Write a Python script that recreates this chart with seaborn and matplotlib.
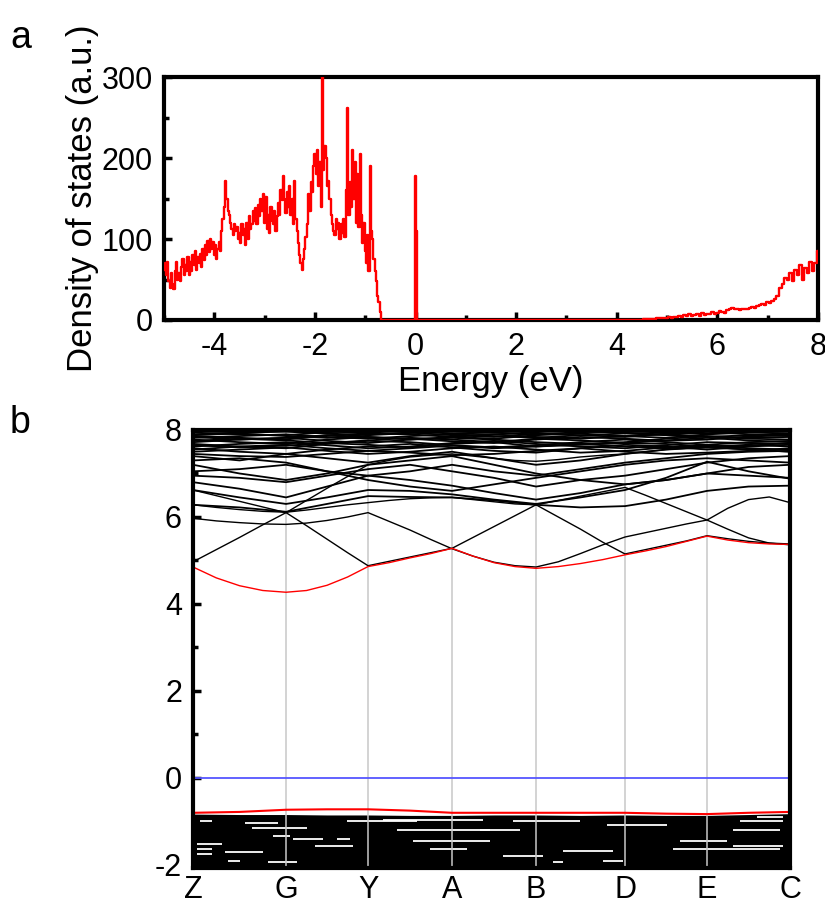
import numpy as np
import pandas as pd
import matplotlib
matplotlib.use("Agg")
import matplotlib.pyplot as plt
import seaborn as sns
from matplotlib.ticker import MultipleLocator

# ---- panel a: density of states ----
# occupied part, -5.0 .. -0.675 eV, 0.025 eV steps
dos_valence = [
    62, 70, 55, 72, 48, 40, 58, 45, 38, 60, 72, 50, 58, 48, 65, 75, 55, 68, 60, 78,
    55, 72, 60, 80, 68, 85, 62, 78, 70, 82, 66, 88, 74, 92, 80, 98, 84, 100, 88, 96,
    80, 92, 75, 88, 96, 85, 110, 125, 140, 172, 150, 135, 130, 120, 112, 105, 118, 110, 115, 100,
    108, 95, 118, 105, 112, 92, 120, 100, 128, 112, 118, 135, 122, 138, 118, 142, 128, 150, 135, 155,
    120, 152, 112, 130, 108, 140, 122, 118, 135, 110, 128, 145, 130, 160, 148, 178, 150, 132, 158, 140,
    165, 130, 150, 118, 172, 125, 110, 95, 80, 70, 62, 75, 88, 102, 118, 155, 135, 170, 158, 190,
    205, 180, 210, 165, 195, 140, 300, 185, 215, 200, 165, 172, 150, 130, 118, 110, 105, 125, 112, 120,
    100, 118, 108, 125, 102, 160, 262, 130, 170, 140, 210, 150, 195, 120, 180, 115, 205, 130, 95, 120,
    85, 70, 105, 60, 190, 110, 100, 75, 60, 48, 30, 22, 10, 0,
]
e_valence = np.round(-5.0 + 0.025 * np.arange(len(dos_valence)), 3)

# gap with the in-gap state at 0 eV
e_gap = [-0.65, -0.02, 0.0, 0.02, 0.04, 4.35]
dos_gap = [0, 0, 178, 110, 0, 0]

# conduction part, 4.40 .. 8.00 eV, 0.05 eV steps
dos_conduction = [
    0, 0, 0.5, 0.8, 1, 1.2, 1.5, 1.5, 2, 2.5, 2.5, 3,
    3, 3.5, 3, 4, 3.5, 5, 4, 6, 4.5, 7, 5, 6,
    7, 5, 9, 6, 8, 7, 10, 8, 9, 11, 10, 9,
    12, 13, 15, 13, 14, 12, 14, 13, 14, 15, 16, 15,
    17, 18, 20, 19, 22, 21, 24, 26, 30, 40, 45, 52,
    50, 58, 48, 62, 55, 68, 50, 64, 58, 72, 60, 70,
    85,
]
e_conduction = np.round(4.4 + 0.05 * np.arange(len(dos_conduction)), 3)

# ---- panel b: band structure ----
k_labels = ["Z", "G", "Y", "A", "B", "D", "E", "C"]
k_ticks = [0, 93, 175, 259, 343, 432, 514, 597]

# lowest conduction bands, sampled at the points and quarter points of each segment
cb_red = [4.85, 4.60, 4.42, 4.31, 4.27, 4.31, 4.43, 4.62, 4.86, 4.95, 5.06, 5.16,
          5.28, 5.10, 4.95, 4.86, 4.82, 4.86, 4.93, 5.02, 5.13, 5.22, 5.32, 5.44,
          5.56, 5.47, 5.41, 5.38, 5.37]
cb_low = [
    [4.97, 5.25, 5.53, 5.82, 6.10, 6.38, 6.66, 6.93, 7.20, 7.30, 7.38, 7.42,
     7.45, 7.40, 7.35, 7.30, 7.28, 7.32, 7.38, 7.42, 7.45, 7.50, 7.55, 7.58,
     7.60, 7.58, 7.55, 7.52, 7.50],
    [6.62, 6.49, 6.36, 6.23, 6.10, 5.80, 5.49, 5.18, 4.88, 4.98, 5.08, 5.18,
     5.28, 5.53, 5.78, 6.03, 6.28, 6.00, 5.72, 5.42, 5.15, 5.25, 5.35, 5.45,
     5.57, 5.50, 5.44, 5.40, 5.38],
    [5.97, 5.91, 5.87, 5.84, 5.83, 5.86, 5.92, 6.00, 6.10, 5.90, 5.70, 5.48,
     5.27, 5.10, 4.96, 4.88, 4.85, 4.97, 5.16, 5.36, 5.54, 5.64, 5.74, 5.84,
     5.93, 5.72, 5.52, 5.40, 5.36],
    [6.28, 6.22, 6.17, 6.13, 6.11, 6.16, 6.22, 6.28, 6.33, 6.38, 6.42, 6.44,
     6.45, 6.40, 6.35, 6.30, 6.28, 6.38, 6.48, 6.58, 6.68, 6.50, 6.31, 6.12,
     5.93, 6.20, 6.40, 6.46, 6.33],
]

# higher conduction bands, sampled at the points and midpoints of each segment
cb_high = [
    [6.62, 6.45, 6.30, 6.45, 6.62, 6.60, 6.52, 6.40, 6.30, 6.45, 6.62, 6.90, 7.27, 7.05, 6.88],
    [6.28, 6.22, 6.12, 6.30, 6.48, 6.46, 6.45, 6.38, 6.28, 6.22, 6.25, 6.40, 6.60, 6.70, 6.72],
    [6.80, 6.65, 6.45, 6.70, 6.95, 6.85, 6.72, 6.55, 6.40, 6.55, 6.75, 6.85, 7.00, 7.15, 7.20],
    [6.95, 6.90, 6.80, 6.95, 7.10, 7.20, 7.05, 6.90, 6.70, 6.85, 6.95, 7.10, 7.25, 7.35, 7.40],
    [7.05, 7.10, 7.20, 7.05, 6.85, 6.70, 6.60, 6.75, 6.90, 7.05, 7.20, 7.30, 7.35, 7.30, 7.25],
    [7.20, 7.00, 6.85, 7.00, 7.20, 7.30, 7.40, 7.20, 7.00, 6.85, 6.75, 6.85, 7.00, 6.95, 6.90],
    [7.30, 7.35, 7.25, 7.05, 6.95, 7.05, 7.20, 7.05, 6.95, 7.10, 7.25, 7.35, 7.45, 7.50, 7.52],
    [7.40, 7.30, 7.45, 7.35, 7.25, 7.40, 7.50, 7.35, 7.20, 7.30, 7.45, 7.55, 7.60, 7.55, 7.50],
    [7.50, 7.55, 7.60, 7.52, 7.45, 7.50, 7.58, 7.62, 7.55, 7.48, 7.52, 7.60, 7.65, 7.58, 7.55],
    [7.58, 7.50, 7.45, 7.55, 7.62, 7.68, 7.60, 7.52, 7.48, 7.58, 7.66, 7.62, 7.55, 7.62, 7.66],
    [7.62, 7.68, 7.72, 7.65, 7.58, 7.62, 7.70, 7.75, 7.68, 7.62, 7.58, 7.65, 7.72, 7.70, 7.68],
    [7.68, 7.62, 7.58, 7.68, 7.75, 7.72, 7.65, 7.60, 7.65, 7.72, 7.78, 7.72, 7.66, 7.72, 7.75],
    [7.72, 7.78, 7.82, 7.75, 7.70, 7.78, 7.82, 7.78, 7.72, 7.68, 7.72, 7.80, 7.85, 7.80, 7.78],
    [7.78, 7.72, 7.68, 7.78, 7.84, 7.80, 7.74, 7.70, 7.78, 7.84, 7.80, 7.75, 7.78, 7.85, 7.88],
    [7.82, 7.86, 7.90, 7.84, 7.80, 7.86, 7.90, 7.86, 7.82, 7.88, 7.92, 7.88, 7.84, 7.88, 7.90],
    [7.86, 7.82, 7.78, 7.88, 7.92, 7.90, 7.84, 7.80, 7.88, 7.92, 7.86, 7.82, 7.90, 7.94, 7.92],
    [7.90, 7.94, 7.96, 7.92, 7.88, 7.93, 7.96, 7.94, 7.90, 7.95, 7.97, 7.94, 7.92, 7.95, 7.96],
    [7.94, 7.90, 7.88, 7.95, 7.98, 7.96, 7.92, 7.90, 7.95, 7.98, 7.93, 7.90, 7.96, 7.98, 7.97],
    [7.45, 7.40, 7.38, 7.45, 7.52, 7.48, 7.42, 7.45, 7.52, 7.58, 7.50, 7.45, 7.48, 7.52, 7.58],
    [7.55, 7.62, 7.66, 7.58, 7.52, 7.58, 7.64, 7.58, 7.62, 7.68, 7.62, 7.58, 7.62, 7.66, 7.62],
    [7.65, 7.60, 7.64, 7.70, 7.66, 7.60, 7.68, 7.72, 7.62, 7.66, 7.70, 7.68, 7.60, 7.64, 7.70],
    [7.75, 7.80, 7.76, 7.70, 7.76, 7.82, 7.78, 7.72, 7.80, 7.76, 7.70, 7.76, 7.82, 7.76, 7.72],
    [7.84, 7.78, 7.82, 7.88, 7.84, 7.78, 7.84, 7.90, 7.84, 7.80, 7.86, 7.90, 7.86, 7.82, 7.84],
    [7.88, 7.92, 7.86, 7.82, 7.90, 7.94, 7.88, 7.84, 7.92, 7.88, 7.84, 7.92, 7.96, 7.90, 7.86],
    [7.97, 7.95, 7.98, 7.96, 7.94, 7.98, 7.97, 7.95, 7.98, 7.96, 7.95, 7.98, 7.97, 7.96, 7.98],
]

# valence band top (red) and top of the dense valence manifold, midpoint sampling
vb_red = [-0.80, -0.78, -0.73, -0.72, -0.72, -0.75, -0.80, -0.80, -0.80, -0.80,
          -0.80, -0.82, -0.83, -0.80, -0.78]
vb_dense_top = [-0.83, -0.84, -0.84, -0.85, -0.85, -0.86, -0.86, -0.85, -0.85, -0.86,
                -0.85, -0.86, -0.86, -0.84, -0.82]
vb_bottom = -2.2

# small openings inside the dense valence manifold
gap_e = [-1.00, -1.04, -1.16, -1.00, -1.33, -1.41, -1.41, -1.56, -1.71, -1.90, -1.94,
         -1.52, -1.64, -1.75, -1.20, -1.45, -1.64, -0.97, -1.00, -1.07, -1.19, -1.64,
         -1.56, -1.68, -1.79, -1.00, -0.89, -1.19, -1.45, -1.94, -1.90]
gap_k0 = [7, 52, 59, 154, 80, 100, 144, 122, 32, 35, 75, 4, 4, 4, 204, 220, 237, 190,
          320, 414, 287, 480, 540, 370, 310, 547, 564, 540, 487, 360, 410]
gap_k1 = [19, 85, 114, 224, 97, 130, 157, 160, 70, 47, 104, 29, 19, 19, 297, 297, 274,
          290, 387, 474, 327, 587, 590, 420, 350, 590, 590, 587, 534, 370, 430]

# sampling of the k path
k_quarter = [k_ticks[i] + f * (k_ticks[i + 1] - k_ticks[i])
             for i in range(len(k_ticks) - 1) for f in (0, 0.25, 0.5, 0.75)] + [k_ticks[-1]]
k_half = [k_ticks[i] + f * (k_ticks[i + 1] - k_ticks[i])
          for i in range(len(k_ticks) - 1) for f in (0, 0.5)] + [k_ticks[-1]]

sns.set_theme(style="white")
plt.rcParams["font.family"] = ["Liberation Sans", "DejaVu Sans"]
plt.rcParams["axes.unicode_minus"] = False
for key in ["text.color", "axes.labelcolor", "xtick.color", "ytick.color"]:
    plt.rcParams[key] = "black"

fig = plt.figure(figsize=(8.25, 9.06), dpi=100)

# ---------- a ----------
ax = fig.add_axes([0.1988, 0.6468, 0.7927, 0.2682])
dos = pd.DataFrame({
    "energy": np.concatenate([e_valence, e_gap, e_conduction]),
    "dos": np.concatenate([dos_valence, dos_gap, dos_conduction]),
})
sns.lineplot(data=dos, x="energy", y="dos", color="red", lw=1.7,
             estimator=None, sort=False, drawstyle="steps-mid", ax=ax, zorder=3)
ax.set_xlim(-5, 8)
ax.set_ylim(0, 300)
ax.xaxis.set_major_locator(MultipleLocator(2))
ax.xaxis.set_minor_locator(MultipleLocator(1))
ax.yaxis.set_major_locator(MultipleLocator(100))
ax.yaxis.set_minor_locator(MultipleLocator(50))
ax.tick_params(which="both", direction="in", width=2.5, labelsize=22,
               bottom=True, left=True, top=False, right=False)
ax.tick_params(axis="x", pad=9)
ax.tick_params(axis="y", pad=8)
ax.tick_params(which="major", length=6)
ax.tick_params(which="minor", length=3.5)
ax.set_xlabel("Energy (eV)", fontsize=25, labelpad=2)
ax.set_ylabel("Density of states (a.u.)", fontsize=25, labelpad=2)
for s in ax.spines.values():
    s.set_linewidth(3)
    s.set_color("black")

# ---------- b ----------
bx = fig.add_axes([0.234, 0.0419, 0.7236, 0.4835])
bx.fill_between(k_half, vb_bottom, vb_dense_top, color="black", lw=0, zorder=2)
bx.hlines(gap_e, gap_k0, gap_k1, color="white", lw=1.3, zorder=2.5)
for k in k_ticks[1:-1]:
    bx.axvline(k, color="#c8c8c8", lw=1.1, zorder=3)
bx.axhline(0, color="#5555ff", lw=1.3, zorder=3.5)

for band in cb_high:
    sns.lineplot(x=k_half, y=band, color="black", lw=1.3, estimator=None,
                 sort=False, ax=bx, zorder=4)
for band in cb_low:
    sns.lineplot(x=k_quarter, y=band, color="black", lw=1.0, estimator=None,
                 sort=False, ax=bx, zorder=4)
sns.lineplot(x=k_quarter, y=cb_red, color="red", lw=1.0, estimator=None,
             sort=False, ax=bx, zorder=5)
sns.lineplot(x=k_half, y=vb_red, color="red", lw=1.5, estimator=None,
             sort=False, ax=bx, zorder=5)

bx.set_xlim(k_ticks[0], k_ticks[-1])
bx.set_ylim(-2.07, 8)
bx.set_xticks(k_ticks)
bx.set_xticklabels(k_labels)
bx.yaxis.set_major_locator(MultipleLocator(2))
bx.yaxis.set_minor_locator(MultipleLocator(1))
bx.tick_params(axis="x", length=0, labelsize=22, pad=5)
bx.tick_params(axis="y", which="both", direction="in", width=2.5, labelsize=22,
               pad=8, left=True, right=False)
bx.tick_params(axis="y", which="major", length=6)
bx.tick_params(axis="y", which="minor", length=3.5)
for s in bx.spines.values():
    s.set_linewidth(3)
    s.set_color("black")
    s.set_zorder(6)

fig.text(0.012, 0.947, "a", fontsize=27)
fig.text(0.012, 0.522, "b", fontsize=27)

fig.savefig("out.png", dpi=100)
